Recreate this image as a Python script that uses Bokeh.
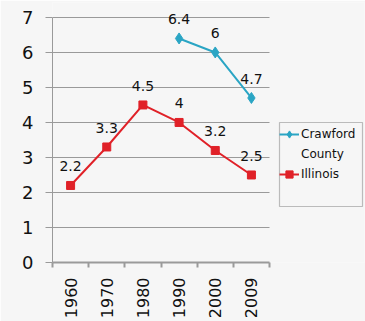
from math import pi
from bokeh.plotting import figure
from bokeh.models import (ColumnDataSource, FixedTicker, Legend, LegendItem,
                          Range1d, LabelSet, BoxAnnotation)
from bokeh.core.properties import value
from bokeh.embed import file_html
from bokeh.resources import INLINE

years = ["1960", "1970", "1980", "1990", "2000", "2009"]
crawford_years = ["1990", "2000", "2009"]
crawford_vals = [6.4, 6.0, 4.7]
crawford_text = ["6.4", "6", "4.7"]
illinois_years = ["1960", "1970", "1980", "1990", "2000", "2009"]
illinois_vals = [2.2, 3.3, 4.5, 4.0, 3.2, 2.5]
illinois_text = ["2.2", "3.3", "4.5", "4", "3.2", "2.5"]
y_ticks = [0, 1, 2, 3, 4, 5, 6, 7]
legend_lines_crawford = ["Crawford", "County"]
legend_label_illinois = "Illinois"

FONT = "DejaVu Sans"
BG = "#f6f6f6"
CRAW = "#2aa5c4"
ILL = "#e02128"
GRID = "#9a9a9a"

W, H = 365, 321
LEFT, RIGHT, TOP, BOTTOM = 52, 1, 2, 58
PLOT_W, PLOT_H = 217, 246  # pixel size of the data area
frame_w = W - LEFT - RIGHT
frame_h = H - TOP - BOTTOM
n = len(years)
y_max = y_ticks[-1]
x_end = n * frame_w / PLOT_W
y_end = y_max * frame_h / PLOT_H

pos = {y: i + 0.5 for i, y in enumerate(years)}

src_c = ColumnDataSource(dict(x=[pos[y] for y in crawford_years], y=crawford_vals, t=crawford_text))
src_i = ColumnDataSource(dict(x=[pos[y] for y in illinois_years], y=illinois_vals, t=illinois_text))

p = figure(width=W, height=H, output_backend="svg", toolbar_location=None,
           x_range=Range1d(0, x_end), y_range=Range1d(0, y_end),
           min_border_left=LEFT, min_border_right=RIGHT, min_border_top=TOP,
           min_border_bottom=BOTTOM)
p.outline_line_color = None
p.background_fill_color = BG
p.border_fill_color = BG

# axes
p.xaxis.bounds = (0, n)
p.xaxis.ticker = FixedTicker(ticks=[pos[y] for y in years],
                             minor_ticks=list(range(n + 1)))
p.xaxis.major_label_overrides = {pos[y]: y for y in years}
p.xaxis.major_label_orientation = pi / 2
p.xaxis.major_tick_line_color = None
p.xaxis.major_tick_out = 5
p.xaxis.major_tick_in = 0
p.xaxis.minor_tick_line_color = GRID
p.xaxis.minor_tick_line_width = 2
p.xaxis.minor_tick_out = 5
p.xaxis.minor_tick_in = 0
p.xaxis.axis_line_color = GRID
p.xaxis.axis_line_width = 2
p.xaxis.major_label_text_font = FONT
p.xaxis.major_label_text_font_size = "16px"
p.xaxis.major_label_text_color = "#111111"
p.xaxis.major_label_standoff = 10

p.yaxis.bounds = (0, y_max)
p.yaxis.ticker = FixedTicker(ticks=y_ticks)
p.yaxis.minor_tick_line_color = None
p.yaxis.major_tick_line_color = GRID
p.yaxis.major_tick_out = 7
p.yaxis.major_tick_in = 0
p.yaxis.axis_line_color = GRID
p.yaxis.major_label_text_font = FONT
p.yaxis.major_label_text_font_size = "18px"
p.yaxis.major_label_text_color = "#111111"
p.yaxis.major_label_standoff = 12

p.xgrid.grid_line_color = None
p.ygrid.grid_line_color = GRID
p.ygrid.grid_line_width = 1
p.ygrid.cross_bounds = (0, n)

# series
lc = p.line("x", "y", source=src_c, line_color=CRAW, line_width=2)
mc = p.scatter("x", "y", source=src_c, marker="diamond", size=11,
               fill_color=CRAW, line_color=CRAW)
li = p.line("x", "y", source=src_i, line_color=ILL, line_width=2)
mi = p.scatter("x", "y", source=src_i, marker="square", size=8,
               fill_color=ILL, line_color=ILL)

for src in (src_c, src_i):
    p.add_layout(LabelSet(x="x", y="y", text="t", source=src,
                          text_align="center", text_baseline="alphabetic",
                          y_offset=14, text_font=value(FONT),
                          text_font_size="14px", text_color="#111111"))

# legend frame (drawn as a box in canvas pixels)
p.add_layout(BoxAnnotation(left=279, right=362, top=122, bottom=206,
                           left_units="canvas", right_units="canvas",
                           top_units="canvas", bottom_units="canvas",
                           fill_color=BG, fill_alpha=1,
                           line_color="#333333", line_width=1.2))

# invisible glyph for the wrapped second line of the first label
blank = p.line([], [], line_alpha=0)

legend = Legend(items=[LegendItem(label=legend_lines_crawford[0], renderers=[lc, mc]),
                       LegendItem(label=legend_lines_crawford[1], renderers=[blank]),
                       LegendItem(label=legend_label_illinois, renderers=[li, mi])],
                location=(227, 79), orientation="vertical")
legend.label_text_font = FONT
legend.label_text_font_size = "12px"
legend.label_text_color = "#111111"
legend.border_line_color = None
legend.background_fill_alpha = 0
legend.glyph_width = 20
legend.glyph_height = 18
legend.label_height = 18
legend.label_standoff = 2
legend.padding = 3
legend.spacing = 2
legend.margin = 0
p.add_layout(legend, "center")

open("out.html", "w").write(file_html(p, INLINE))
